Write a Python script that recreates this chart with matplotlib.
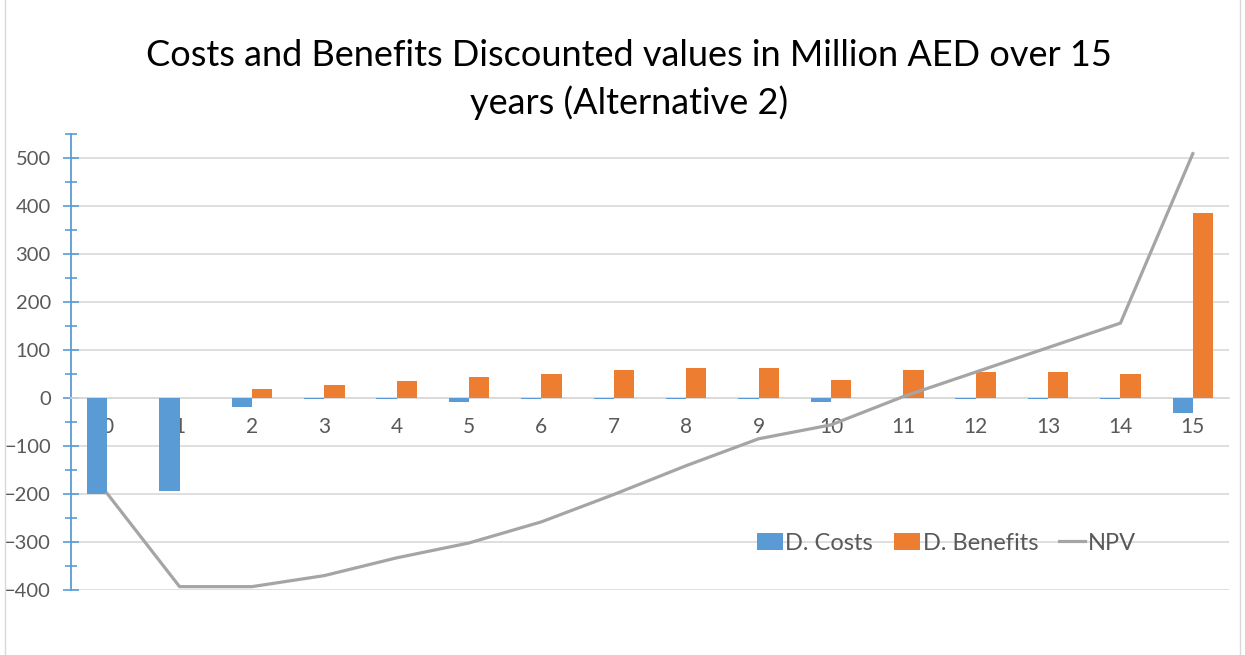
import numpy as np
import matplotlib
matplotlib.use('Agg')
import matplotlib.pyplot as plt
from matplotlib.lines import Line2D

plt.rcParams['font.family'] = ['Lato', 'DejaVu Sans']

years = list(range(16))
d_costs = [-199, -193, -18, -3, -3, -9, -2, -2, -2, -2, -8, -1, -2, -2, -2, -31]
d_benefits = [0, 0, 19, 28, 36, 44, 51, 58, 62, 62, 37, 58, 55, 55, 51, 385]
npv = [-199, -393, -393, -370, -333, -302, -258, -201, -141, -85, -56, 3, 54, 105, 156, 509]

blue = '#5B9BD5'
orange = '#ED7D31'
grey = '#A5A5A5'
txt = '#595959'

fig = plt.figure(figsize=(12.45, 6.55), dpi=100)
ax = fig.add_axes([71 / 1245, 1 - 590 / 655, (1229 - 71) / 1245, (590 - 134) / 655])

x = np.arange(len(years))
w = 0.28
b1 = ax.bar(x - w, d_costs, width=w, align='edge', color=blue, label='D. Costs', zorder=3)
b2 = ax.bar(x, d_benefits, width=w, align='edge', color=orange, label='D. Benefits', zorder=3)
l1, = ax.plot(x, npv, color=grey, lw=2.3, label='NPV', zorder=4)

ax.set_xlim(-0.5, 15.5)
ax.set_ylim(-400, 550)
ax.set_yticks(range(-400, 501, 100))
ax.set_yticks(range(-350, 551, 100), minor=True)
ax.yaxis.grid(True, color='#D9D9D9', lw=1.2, zorder=0)
ax.tick_params(axis='y', which='major', direction='inout', length=11, width=1.2,
               color=blue, labelsize=14.5, labelcolor=txt, pad=9)
ax.tick_params(axis='y', which='minor', direction='inout', length=9, width=1.2, color=blue)

for s in ['top', 'right']:
    ax.spines[s].set_visible(False)
ax.spines['left'].set_color(blue)
ax.spines['left'].set_linewidth(1.3)
ax.spines['bottom'].set_position(('data', 0))
ax.spines['bottom'].set_color('#D9D9D9')
ax.spines['bottom'].set_linewidth(1.2)
ax.set_xticks(x)
ax.set_xticklabels([str(y) for y in years])
ax.tick_params(axis='x', length=0, labelsize=15, labelcolor=txt, pad=14)

ax.legend([b1, b2, l1], ['D. Costs', 'D. Benefits', 'NPV'],
          loc='center', bbox_to_anchor=(0.756, 0.103), ncol=3, frameon=False,
          fontsize=17, handlelength=1.1, handleheight=0.7, handletextpad=0.1,
          columnspacing=0.9, labelcolor=txt)

fig.text(0.505, 1 - 55 / 655, 'Costs and Benefits Discounted values in Million AED over 15',
         ha='center', va='center', fontsize=26, color='black')
fig.text(0.505, 1 - 103 / 655, 'years (Alternative 2)',
         ha='center', va='center', fontsize=26, color='black')

fig.add_artist(Line2D([5 / 1245, 5 / 1245], [0, 1], color='#D9D9D9', lw=1, transform=fig.transFigure))
fig.add_artist(Line2D([1240 / 1245, 1240 / 1245], [0, 1], color='#D9D9D9', lw=1, transform=fig.transFigure))

fig.savefig('out.png', dpi=100)
